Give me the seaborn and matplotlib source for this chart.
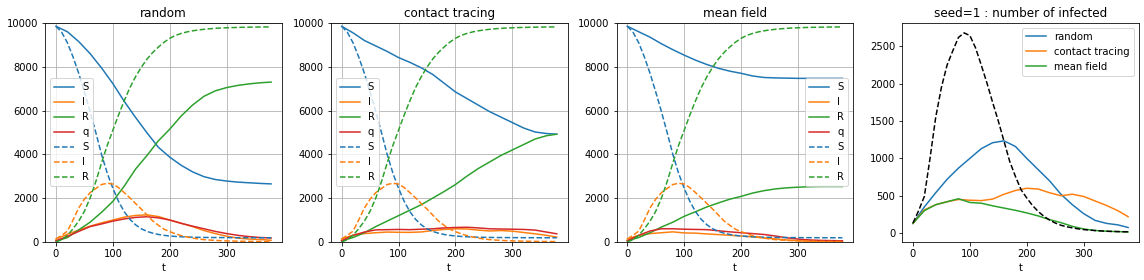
import numpy as np
import matplotlib
matplotlib.use("Agg")
import matplotlib.pyplot as plt
import seaborn as sns

# time grids
t_mf = [0, 10, 20, 30, 40, 50, 60, 70, 80, 90, 100, 110, 120, 130, 140, 150, 160, 170, 180, 190,
        200, 210, 220, 230, 240, 250, 260, 270, 280, 290, 300, 310, 320, 330, 340, 350, 360, 370, 378]
t_sim = [0, 20, 40, 60, 80, 100, 120, 140, 160, 180, 200, 220, 240, 260, 280, 300, 320, 340, 360, 378]

# deterministic mean-field SIR (dashed)
S_mf = [9850, 9580, 9100, 8450, 7700, 6850, 5950, 5000, 4000, 3150, 2450, 1850, 1380, 1030, 780, 600, 480, 400, 340, 300,
        270, 250, 235, 225, 215, 210, 205, 202, 200, 198, 196, 195, 194, 193, 192, 191, 190, 190, 190]
I_mf = [134, 300, 490, 1000, 1550, 1950, 2250, 2440, 2620, 2680, 2645, 2480, 2250, 2010, 1750, 1500, 1230, 960, 760, 580,
        470, 370, 290, 225, 175, 135, 105, 85, 70, 57, 47, 40, 34, 29, 25, 22, 20, 18, 17]
R_mf = [0, 100, 300, 600, 950, 1400, 2000, 2750, 3600, 4400, 5100, 5800, 6450, 7050, 7550, 7980, 8350, 8650, 8900, 9120,
        9300, 9430, 9520, 9590, 9640, 9680, 9710, 9735, 9755, 9770, 9780, 9790, 9797, 9803, 9808, 9812, 9815, 9818, 9820]

# random
S_rand = [9850, 9600, 9150, 8600, 7950, 7230, 6420, 5680, 4980, 4320, 3870, 3500, 3200, 2980, 2850, 2780, 2730, 2700, 2670, 2650]
I_rand = [130, 350, 540, 720, 870, 1000, 1130, 1210, 1235, 1160, 1000, 850, 700, 520, 380, 260, 170, 130, 110, 75]
R_rand = [30, 200, 550, 900, 1350, 1850, 2550, 3330, 3950, 4620, 5150, 5750, 6250, 6650, 6900, 7050, 7150, 7220, 7270, 7300]
q_rand = [50, 250, 480, 700, 820, 950, 1050, 1120, 1150, 1100, 1000, 850, 720, 600, 480, 380, 300, 240, 200, 180]

# contact tracing
S_ct = [9850, 9550, 9200, 8950, 8700, 8420, 8200, 7950, 7650, 7250, 6850, 6550, 6250, 5950, 5700, 5450, 5200, 5020, 4950, 4920]
I_ct = [130, 310, 380, 420, 450, 440, 435, 455, 520, 570, 600, 590, 540, 500, 520, 490, 430, 370, 300, 220]
R_ct = [50, 200, 420, 700, 950, 1200, 1450, 1700, 2000, 2300, 2620, 3000, 3350, 3650, 3950, 4200, 4450, 4700, 4850, 4920]
q_ct = [50, 300, 450, 550, 560, 570, 560, 580, 600, 640, 660, 670, 640, 600, 590, 580, 570, 540, 450, 370]

# mean field (simulation)
S_mfs = [9850, 9600, 9350, 9050, 8780, 8530, 8300, 8100, 7930, 7800, 7700, 7580, 7510, 7490, 7480, 7470, 7470, 7470, 7470, 7470]
I_mfs = [130, 300, 380, 420, 460, 410, 400, 365, 335, 305, 270, 230, 180, 140, 90, 55, 35, 25, 20, 15]
R_mfs = [50, 200, 420, 680, 900, 1170, 1380, 1600, 1780, 1950, 2080, 2230, 2340, 2420, 2470, 2500, 2520, 2530, 2530, 2530]
q_mfs = [50, 300, 500, 600, 600, 580, 570, 560, 510, 460, 420, 380, 340, 270, 190, 130, 90, 70, 60, 50]

titles = ["random", "contact tracing", "mean field"]
sim_sets = [(S_rand, I_rand, R_rand, q_rand), (S_ct, I_ct, R_ct, q_ct), (S_mfs, I_mfs, R_mfs, q_mfs)]
legend_locs = ["center left", "center left", "center right"]
colors = ["#1f77b4", "#ff7f0e", "#2ca02c", "#d62728"]

DPI = 72
fig, axes = plt.subplots(1, 4, figsize=(1144 / DPI, 280 / DPI), dpi=DPI)
fig.subplots_adjust(left=0.0395, right=0.9955, top=0.918, bottom=0.136, wspace=0.207)

for ax, title, sims, loc in zip(axes[:3], titles, sim_sets, legend_locs):
    for vals, lab, c in zip(sims, ["S", "I", "R", "q"], colors):
        sns.lineplot(x=t_sim, y=vals, ax=ax, color=c, label=lab, linewidth=1.5)
    for vals, lab, c in zip([S_mf, I_mf, R_mf], ["S", "I", "R"], colors[:3]):
        sns.lineplot(x=t_mf, y=vals, ax=ax, color=c, label=lab, linestyle="--", linewidth=1.5)
    ax.set_ylim(0, 10000)
    ax.set_title(title)
    ax.set_xlabel("t")
    ax.grid(True)
    ax.set_xticks([0, 100, 200, 300])
    ax.legend(loc=loc)

ax = axes[3]
for vals, lab, c in zip([I_rand, I_ct, I_mfs], ["random", "contact tracing", "mean field"], colors[:3]):
    sns.lineplot(x=t_sim, y=vals, ax=ax, color=c, label=lab, linewidth=1.5)
sns.lineplot(x=t_mf, y=I_mf, ax=ax, color="black", linestyle="--", linewidth=1.5)
ax.set_title("seed=1 : number of infected")
ax.set_xlabel("t")
ax.set_xticks([0, 100, 200, 300])
ax.legend(loc="upper right")

fig.savefig("out.png", dpi=DPI)
